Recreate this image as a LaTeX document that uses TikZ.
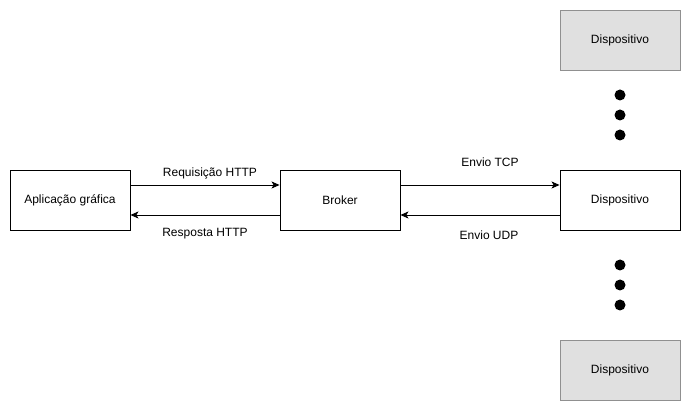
\documentclass[tikz,border=0pt]{standalone}
\usepackage{fontspec}
\setmainfont{Liberation Sans}
\usetikzlibrary{arrows.meta}
\definecolor{grayfill}{HTML}{E0E0E0}
\definecolor{grayline}{HTML}{909090}
\tikzset{
  box/.style={draw=black, line width=0.9pt, minimum width=120pt, minimum height=60pt, inner sep=0pt, font=\fontsize{12}{14}\selectfont},
  graybox/.style={box, draw=grayline, fill=grayfill},
  conn/.style={line width=0.9pt, -{Stealth[length=8pt,width=7pt,inset=2pt]}},
  lbl/.style={font=\fontsize{12}{14}\selectfont, inner sep=0pt},
  dot/.style={circle, fill=black, minimum size=11pt, inner sep=0pt}
}
\begin{document}
\begin{tikzpicture}[x=1pt,y=-1pt]
\useasboundingbox (0,0) rectangle (691,411);
\node[box] (app) at (70,200) {Aplicação gráfica};
\node[box] (broker) at (340,200) {Broker};
\node[box] (dev) at (620,200) {Dispositivo};
\node[graybox] (devtop) at (620,40) {Dispositivo};
\node[graybox] (devbot) at (620,370) {Dispositivo};
\node[dot] (d1) at (620,95) {};
\node[dot] (d2) at (620,115) {};
\node[dot] (d3) at (620,135) {};
\node[dot] (d4) at (620,265) {};
\node[dot] (d5) at (620,285) {};
\node[dot] (d6) at (620,305) {};
\draw[conn] (app.east |- 0,185) -- (broker.west |- 0,185);
\draw[conn] (broker.west |- 0,215) -- (app.east |- 0,215);
\draw[conn] (broker.east |- 0,185) -- (dev.west |- 0,185);
\draw[conn] (dev.west |- 0,215) -- (broker.east |- 0,215);
\node[lbl] (l1) at (210,173) {Requisição HTTP};
\node[lbl] (l2) at (205,234) {Resposta HTTP};
\node[lbl] (l3) at (490,162) {Envio TCP};
\node[lbl] (l4) at (489,235) {Envio UDP};
\end{tikzpicture}
\end{document}
